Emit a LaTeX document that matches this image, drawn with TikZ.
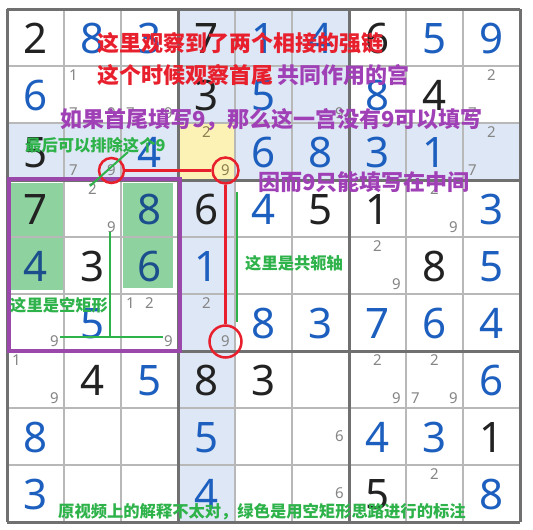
\documentclass[tikz,border=0pt]{standalone}
\usepackage{fontspec}
\setmainfont{Noto Sans}
\newfontfamily\cjk{Noto Sans CJK SC}
\definecolor{digblue}{HTML}{1D5FBF}
\definecolor{digdeep}{HTML}{1A4E8C}
\definecolor{digblack}{HTML}{222222}
\definecolor{candgrey}{HTML}{858585}
\definecolor{candolive}{HTML}{8A8050}
\definecolor{hlblue}{HTML}{DEE7F5}
\definecolor{hlyellow}{HTML}{FDF2B6}
\definecolor{hlgreen}{HTML}{8ED2A0}
\definecolor{gridthin}{HTML}{B8B8B8}
\definecolor{gridthick}{HTML}{707070}
\definecolor{notered}{HTML}{E8202E}
\definecolor{notepurple}{HTML}{A040B6}
\definecolor{notegreen}{HTML}{2EB24A}
\definecolor{boxpurple}{HTML}{9A48AA}
\newcommand\bigd[4]{\node[bigdigit, text=#4] (d#1#2) at ({7+57*(#2-0.5)},{9+57*(#1-0.5)+1}) {#3};}
\newcommand\cand[4][candgrey]{%
  \pgfmathsetmacro\candco{int(mod(#4-1,3))}%
  \pgfmathsetmacro\candro{int((#4-1)/3)}%
  \node[candnum, text=#1] (c#2#3#4) at ({7+57*(#3-1)+9.5+19*\candco},{9+57*(#2-1)+9.5+19*\candro}) {#4};}
\begin{document}
\begin{tikzpicture}[x=1pt,y=-1pt,
  bigdigit/.style={font=\fontsize{42}{42}\selectfont, inner sep=0pt, anchor=center},
  candnum/.style={font=\fontsize{15}{15}\selectfont, inner sep=0pt, anchor=center},
  thinline/.style={draw=gridthin, line width=1.5pt},
  thickline/.style={draw=gridthick, line width=3pt},
  note/.style={font=\cjk\bfseries\fontsize{22}{22}\selectfont, inner sep=0pt, anchor=west},
  smallnote/.style={font=\cjk\bfseries\fontsize{16.3}{16.3}\selectfont, inner sep=0pt, anchor=west, text=notegreen},
  ring/.style={circle, draw=notered, line width=2.5pt, inner sep=0pt},
  chain/.style={draw=notered, line width=2.5pt},
  guide/.style={draw=notegreen, line width=2pt},
]
\useasboundingbox (0,0) rectangle (533,530);
\fill[white] (0,0) rectangle (533,530);
% highlights
\fill[hlblue] (178,9) rectangle (349,180);
\fill[hlblue] (7,123) rectangle (520,180);
\fill[hlblue] (178,9) rectangle (235,522);
\fill[hlyellow] (178,123) rectangle (235,180);
\fill[hlgreen] (10,183) rectangle (63,290);
\fill[hlgreen] (123,183) rectangle (173,288);
% grid
\foreach \i in {1,2,4,5,7,8} {
  \draw[thinline] ({7+57*\i},9) -- ({7+57*\i},522);
  \draw[thinline] (7,{9+57*\i}) -- (520,{9+57*\i});
}
\foreach \i in {0,3,6,9} {
  \draw[thickline] ({7+57*\i},9) -- ({7+57*\i},522);
  \draw[thickline] (7,{9+57*\i}) -- (520,{9+57*\i});
}
% given digits
\bigd{1}{1}{2}{digblack}\bigd{1}{2}{8}{digblue}\bigd{1}{3}{3}{digblue}
\bigd{1}{4}{7}{digblack}\bigd{1}{5}{1}{digblue}\bigd{1}{6}{4}{digblue}
\bigd{1}{7}{6}{digblack}\bigd{1}{8}{5}{digblue}\bigd{1}{9}{9}{digblue}
\bigd{2}{1}{6}{digblue}\bigd{2}{4}{3}{digblack}\bigd{2}{5}{5}{digblue}
\bigd{2}{7}{8}{digblue}\bigd{2}{8}{4}{digblack}
\bigd{3}{1}{5}{digblack}\bigd{3}{3}{4}{digblue}\bigd{3}{5}{6}{digblue}
\bigd{3}{6}{8}{digblue}\bigd{3}{7}{3}{digblue}\bigd{3}{8}{1}{digblue}
\bigd{4}{1}{7}{digblack}\bigd{4}{3}{8}{digdeep}\bigd{4}{4}{6}{digblack}
\bigd{4}{5}{4}{digblue}\bigd{4}{6}{5}{digblack}\bigd{4}{7}{1}{digblack}
\bigd{4}{9}{3}{digblue}
\bigd{5}{1}{4}{digdeep}\bigd{5}{2}{3}{digblack}\bigd{5}{3}{6}{digdeep}
\bigd{5}{4}{1}{digblue}\bigd{5}{8}{8}{digblack}\bigd{5}{9}{5}{digblue}
\bigd{6}{2}{5}{digblue}\bigd{6}{5}{8}{digblue}\bigd{6}{6}{3}{digblue}
\bigd{6}{7}{7}{digblue}\bigd{6}{8}{6}{digblue}\bigd{6}{9}{4}{digblue}
\bigd{7}{2}{4}{digblack}\bigd{7}{3}{5}{digblue}\bigd{7}{4}{8}{digblack}
\bigd{7}{5}{3}{digblack}\bigd{7}{9}{6}{digblue}
\bigd{8}{1}{8}{digblue}\bigd{8}{4}{5}{digblue}\bigd{8}{7}{4}{digblue}
\bigd{8}{8}{3}{digblue}\bigd{8}{9}{1}{digblack}
\bigd{9}{1}{3}{digblue}\bigd{9}{4}{4}{digblue}\bigd{9}{7}{5}{digblack}
\bigd{9}{9}{8}{digblue}
% candidates
\cand{2}{2}{1}\cand{2}{2}{7}\cand{2}{2}{9}
\cand{2}{3}{7}\cand{2}{3}{9}
\cand{2}{6}{9}
\cand{2}{9}{2}\cand{2}{9}{7}
\cand{3}{2}{7}\cand{3}{2}{9}
\cand[candolive]{3}{4}{2}\cand[candolive]{3}{4}{9}
\cand{3}{9}{2}\cand{3}{9}{7}
\cand{4}{2}{2}\cand{4}{2}{9}
\cand{4}{8}{2}\cand{4}{8}{9}
\cand{5}{7}{2}\cand{5}{7}{9}
\cand{6}{1}{9}
\cand{6}{3}{1}\cand{6}{3}{2}\cand{6}{3}{9}
\cand{6}{4}{2}\cand{6}{4}{9}
\cand{7}{1}{1}\cand{7}{1}{9}
\cand{7}{7}{2}\cand{7}{7}{9}
\cand{7}{8}{2}\cand{7}{8}{7}\cand{7}{8}{9}
\cand{8}{6}{6}
\cand{9}{6}{6}
\cand{9}{8}{2}
% purple box
\draw[boxpurple, line width=4pt] (9,179) rectangle (180,351);
% red chain
\node[ring, minimum size=25pt] (ring1) at (c329) {};
\node[ring, minimum size=26pt] (ring2) at (c349) {};
\node[ring, minimum size=32pt] (ring3) at (c649) {};
\draw[chain] (ring1.east) -- (ring2.west);
\draw[chain] (ring2.south) -- (ring3.north);
% green guides
\coordinate (axisTop) at (237,192);
\coordinate (axisBot) at (237,322);
\draw[guide] (axisTop) -- (axisBot);
\coordinate (diagA) at (90,186);
\coordinate (diagB) at (128,152);
\draw[guide] (diagA) -- (diagB);
\coordinate (rectTop) at (110,232);
\coordinate (rectMid) at (110,337);
\coordinate (rectL) at (60,337);
\coordinate (rectR) at (163,337);
\draw[guide] (rectTop) -- (rectMid);
\draw[guide] (rectL) -- (rectR);
% notes
\node[note, text=notered] (n1) at (97,43) {这里观察到了两个相接的强链};
\node[note] (n2) at (97,75) {\textcolor{notered}{这个时候观察首尾}\hspace{4pt}\textcolor{notepurple}{共同作用的宫}};
\node[note, text=notepurple] (n3) at (60,120) {如果首尾填写9，那么这一宫没有9可以填写};
\node[smallnote] (n4) at (25,145) {最后可以排除这个9};
\node[note, text=notepurple] (n5) at (258,182) {因而9只能填写在中间};
\node[smallnote] (n6) at (245,263) {这里是共轭轴};
\node[smallnote] (n7) at (10,305) {这里是空矩形};
\node[smallnote] (n8) at (58,512) {原视频上的解释不太对，绿色是用空矩形思路进行的标注};
\end{tikzpicture}
\end{document}
